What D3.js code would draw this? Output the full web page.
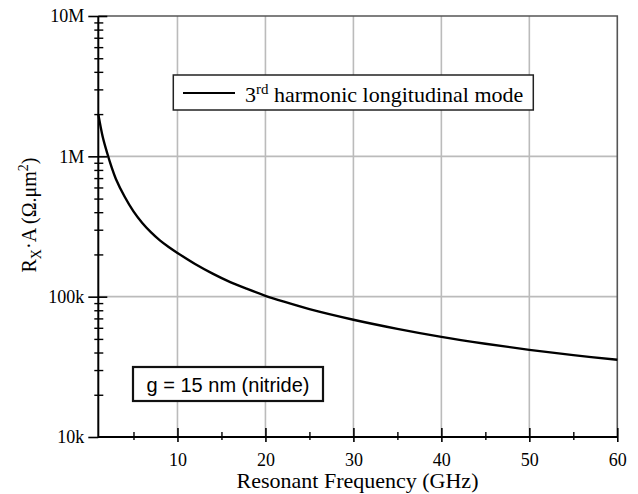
<!DOCTYPE html>
<html>
<head>
<meta charset="utf-8">
<script src="https://cdn.jsdelivr.net/npm/d3@7"></script>
<style>
    body { margin: 0; background: #fff; }
    svg { display: block; }
    .tick text { font-family: "Liberation Serif", serif; font-size: 18px; fill: #000; }
</style>
</head>
<body>
<div id="chart"></div>
<script>
// values
var freqGHz = [1, 1.5, 2, 2.5, 3, 4, 5, 6, 7, 8, 9, 10, 12, 14, 16, 18, 20, 22, 25, 30, 35, 40, 45, 50, 55, 60];
var rxa = [2.0e6, 1.38e6, 1.06e6, 8.4e5, 6.9e5, 5.15e5, 4.05e5, 3.35e5, 2.87e5, 2.52e5, 2.26e5, 2.05e5,
           1.71e5, 1.46e5, 1.27e5, 1.13e5, 1.015e5, 9.25e4, 8.15e4, 6.85e4, 5.9e4, 5.17e4, 4.62e4, 4.18e4, 3.83e4, 3.55e4];
var xMajor = [10, 20, 30, 40, 50, 60];
var xMinor = [5, 15, 25, 35, 45, 55];
var yMajor = [1e4, 1e5, 1e6, 1e7];
var yLabels = ['10k', '100k', '1M', '10M'];
var seriesName = 'harmonic longitudinal mode';
var noteText = 'g = 15 nm (nitride)';

var width = 638, height = 494;
var plotL = 98.3, plotR = 617.3, plotT = 16, plotB = 437;

var yMinor = [];
yMajor.slice(0, -1).forEach(function(d) {
    for (var k = 2; k < 10; k++) yMinor.push(d * k);
});

var svg = d3.select('#chart').append('svg')
    .attr('width', width)
    .attr('height', height);

var x = d3.scaleLinear().domain([1, 60]).range([plotL, plotR]);
var y = d3.scaleLog().domain([1e4, 1e7]).range([plotB, plotT]);

// grid
svg.append('g')
    .selectAll('line')
    .data(xMajor.slice(0, -1))
    .enter().append('line')
    .attr('x1', function(d) { return x(d); })
    .attr('x2', function(d) { return x(d); })
    .attr('y1', plotT).attr('y2', plotB)
    .attr('stroke', '#bbb').attr('stroke-width', 1.6);

svg.append('g')
    .selectAll('line')
    .data(yMajor.slice(1, -1))
    .enter().append('line')
    .attr('x1', plotL).attr('x2', plotR)
    .attr('y1', function(d) { return y(d); })
    .attr('y2', function(d) { return y(d); })
    .attr('stroke', '#bbb').attr('stroke-width', 1.6);

// frame top / right
svg.append('path')
    .attr('d', 'M' + plotL + ',' + plotT + 'H' + plotR + 'V' + plotB)
    .attr('fill', 'none')
    .attr('stroke', '#555')
    .attr('stroke-width', 1.6);

function styleAxis(g, w) {
    g.select('.domain').remove();
    g.selectAll('.tick line').attr('stroke', '#000').attr('stroke-width', w);
}

// y axis: ticks crossing the axis line
svg.append('g')
    .attr('transform', 'translate(' + plotL + ',0)')
    .call(d3.axisLeft(y).tickValues(yMajor).tickSize(10).tickPadding(4)
        .tickFormat(function(d, i) { return yLabels[i]; }))
    .call(styleAxis, 1.6);
svg.append('g')
    .attr('transform', 'translate(' + plotL + ',0)')
    .call(d3.axisRight(y).tickValues(yMajor.slice(1)).tickSize(9).tickFormat(''))
    .call(styleAxis, 1.6);
svg.append('g')
    .attr('transform', 'translate(' + plotL + ',0)')
    .call(d3.axisLeft(y).tickValues(yMinor).tickSize(4).tickFormat(''))
    .call(styleAxis, 1.4);
svg.append('g')
    .attr('transform', 'translate(' + plotL + ',0)')
    .call(d3.axisRight(y).tickValues(yMinor).tickSize(5).tickFormat(''))
    .call(styleAxis, 1.4);

// x axis
svg.append('g')
    .attr('transform', 'translate(0,' + plotB + ')')
    .call(d3.axisBottom(x).tickValues(xMajor).tickSize(5).tickPadding(11).tickFormat(d3.format('d')))
    .call(styleAxis, 1.6);
svg.append('g')
    .attr('transform', 'translate(0,' + plotB + ')')
    .call(d3.axisTop(x).tickValues(xMajor).tickSize(9).tickFormat(''))
    .call(styleAxis, 1.6);
svg.append('g')
    .attr('transform', 'translate(0,' + plotB + ')')
    .call(d3.axisBottom(x).tickValues(xMinor).tickSize(3).tickFormat(''))
    .call(styleAxis, 1.4);
svg.append('g')
    .attr('transform', 'translate(0,' + plotB + ')')
    .call(d3.axisTop(x).tickValues(xMinor).tickSize(5).tickFormat(''))
    .call(styleAxis, 1.4);

// axis lines
svg.append('path')
    .attr('d', 'M' + plotL + ',' + plotT + 'V' + plotB + 'H' + plotR)
    .attr('fill', 'none')
    .attr('stroke', '#000')
    .attr('stroke-width', 2);

// curve
var data = freqGHz.map(function(f, i) { return { x: f, y: rxa[i] }; });
var line = d3.line()
    .x(function(d) { return x(d.x); })
    .y(function(d) { return y(d.y); })
    .curve(d3.curveCatmullRom.alpha(0.5));

svg.append('path')
    .datum(data)
    .attr('d', line)
    .attr('fill', 'none')
    .attr('stroke', '#000')
    .attr('stroke-width', 2.4);

// legend box
var legend = svg.append('g');
legend.append('rect')
    .attr('x', 173.3).attr('y', 75).attr('width', 360).attr('height', 35)
    .attr('fill', '#fff').attr('stroke', '#222').attr('stroke-width', 1.5);
legend.append('line')
    .attr('x1', 183).attr('x2', 235).attr('y1', 93).attr('y2', 93)
    .attr('stroke', '#000').attr('stroke-width', 2.2);
var lt = legend.append('text')
    .attr('x', 245).attr('y', 101.5)
    .style('font-family', '"Liberation Serif", serif')
    .style('font-size', '22px');
lt.append('tspan').text('3');
lt.append('tspan').attr('dy', -8).style('font-size', '15px').text('rd');
lt.append('tspan').attr('dy', 8).text(' ' + seriesName);

// note box
svg.append('rect')
    .attr('x', 133).attr('y', 367).attr('width', 190).attr('height', 34)
    .attr('fill', '#fff').attr('stroke', '#111').attr('stroke-width', 2.2);
svg.append('text')
    .attr('x', 228).attr('y', 391.5)
    .attr('text-anchor', 'middle')
    .style('font-family', '"Liberation Sans", Arial, sans-serif')
    .style('font-size', '20px')
    .text(noteText);

// axis titles
svg.append('text')
    .attr('x', 357.5).attr('y', 488)
    .attr('text-anchor', 'middle')
    .style('font-family', '"Liberation Serif", serif')
    .style('font-size', '22px')
    .text('Resonant Frequency (GHz)');

var yt = svg.append('text')
    .attr('transform', 'translate(36,215) rotate(-90)')
    .attr('text-anchor', 'middle')
    .style('font-family', '"Liberation Serif", serif')
    .style('font-size', '20px');
yt.append('tspan').text('R');
yt.append('tspan').attr('dy', 5).style('font-size', '14px').text('X');
yt.append('tspan').attr('dy', -5).text('·A (Ω.μm');
yt.append('tspan').attr('dy', -8).style('font-size', '14px').text('2');
yt.append('tspan').attr('dy', 8).text(')');
</script>
</body>
</html>
